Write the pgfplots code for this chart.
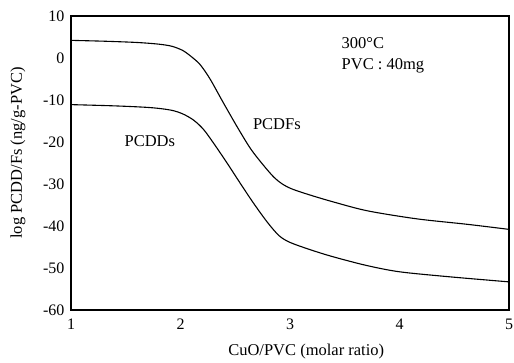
\documentclass[border=0pt]{standalone}
\usepackage{fontspec}
\setmainfont{Liberation Serif}
\usepackage{pgfplots}
\pgfplotsset{compat=1.18}
\begin{document}
\begin{tikzpicture}
\begin{axis}[
  name=ax,
  scale only axis, width=438pt, height=294pt,
  xmin=1, xmax=5, ymin=-60, ymax=10,
  xtick={1,2,3,4,5}, ytick={-60,-50,...,10},
  major tick length=0pt,
  /pgf/number format/assume math mode=true,
  tick label style={font=\fontsize{16}{19}\selectfont},
  xticklabel style={yshift=-5pt},
  yticklabel style={xshift=-3pt},
  axis line style={line width=1.2pt},
  xlabel={CuO/PVC (molar ratio)},
  ylabel={log PCDD/Fs (ng/g-PVC)},
  label style={font=\fontsize{16.5}{19}\selectfont},
  xlabel style={at={(axis description cs:0.537,0)}, anchor=center, yshift=-42pt},
  ylabel style={at={(axis description cs:-0.121,0.534)}, anchor=center},
  clip=false,
]
\addplot[black, line width=1.1pt, smooth, tension=0.5] coordinates {
(1.0,4.2) (1.3,4.0) (1.6,3.7) (1.8,3.3) (1.92,2.8) (2.02,1.8) (2.1,0.3)
(2.18,-1.6) (2.27,-5.0) (2.39,-10.6) (2.52,-16.5) (2.64,-21.6) (2.75,-25.3)
(2.85,-28.3) (2.93,-30.0) (3.02,-31.2) (3.18,-32.6) (3.4,-34.3) (3.71,-36.4)
(4.16,-38.3) (4.62,-39.6) (5.0,-40.8)};
\addplot[black, line width=1.1pt, smooth, tension=0.5] coordinates {
(1.0,-11.1) (1.4,-11.4) (1.72,-11.8) (1.91,-12.4) (2.02,-13.3) (2.12,-14.8)
(2.21,-17.0) (2.30,-20.2) (2.42,-24.8) (2.54,-29.6) (2.66,-34.3) (2.79,-39.0)
(2.9,-42.3) (3.0,-43.9) (3.18,-45.6) (3.39,-47.3) (3.7,-49.4) (4.0,-50.9)
(4.46,-52.1) (5.0,-53.3)};
\node[font=\fontsize{16.5}{19}\selectfont] at (axis cs:1.72,-19.7) {PCDDs};
\node[font=\fontsize{16.5}{19}\selectfont] at (axis cs:2.88,-15.7) {PCDFs};
\node[font=\fontsize{16.5}{19}\selectfont, anchor=west, inner sep=0pt] at (axis cs:3.47,3.5) {300°C};
\node[font=\fontsize{16.5}{19}\selectfont, anchor=west, inner sep=0pt] at (axis cs:3.47,-1.8) {PVC : 40mg};
\end{axis}
\pgfresetboundingbox
\path ([xshift=-71pt,yshift=-52pt]ax.south west) rectangle ([xshift=5pt,yshift=16pt]ax.north east);
\end{tikzpicture}
\end{document}
